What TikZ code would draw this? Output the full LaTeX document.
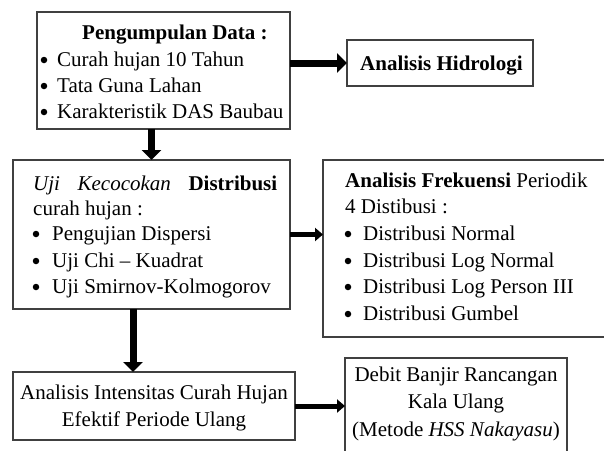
\documentclass[tikz,border=0pt]{standalone}
\usepackage{fontspec}
\setmainfont{Liberation Serif}
\usetikzlibrary{arrows.meta}
\begin{document}
\begin{tikzpicture}[x=1pt,y=-1pt,
  box/.style={draw=black!75, line width=1.3pt, inner sep=0pt, outer sep=0pt, anchor=north west},
  txt/.style={inner sep=0pt, anchor=base west, font=\fontsize{21}{25}\selectfont},
  ctxt/.style={inner sep=0pt, anchor=base, font=\fontsize{21}{25}\selectfont},
  bul/.style={circle, fill=black, inner sep=0pt, minimum size=6.5pt},
  bigarrow/.style={line width=7pt, -{Triangle[length=10pt,width=19pt]}},
  midarrow/.style={line width=5pt, -{Triangle[length=8pt,width=13pt]}}
]
\useasboundingbox (0,0) rectangle (604,450);
% boxes
\node[box, minimum width=253pt, minimum height=117pt] (b1) at (37,12) {};
\node[box, minimum width=186pt, minimum height=46pt] (hid) at (347,40) {};
\node[box, minimum width=277pt, minimum height=149pt] (b2) at (13,160) {};
\node[box, minimum width=290pt, minimum height=177pt] (b3) at (323,160) {};
\node[box, minimum width=282pt, minimum height=68pt] (b4) at (13,372) {};
\node[box, minimum width=222pt, minimum height=100pt] (b5) at (345,358) {};
% box 1 text
\node[txt] (t1) at (82,39) {\textbf{Pengumpulan Data :}};
\node[bul] (t1b1) at (44,60) {};
\node[txt] (t1l1) at (57,66) {Curah hujan 10 Tahun};
\node[bul] (t1b2) at (44,86) {};
\node[txt] (t1l2) at (57,92) {Tata Guna Lahan};
\node[bul] (t1b3) at (44,112) {};
\node[txt] (t1l3) at (57,118) {Karakteristik DAS Baubau};
% hidrologi
\node[txt] (th) at (360,70) {\textbf{Analisis Hidrologi}};
% box 2 text
\node[txt] (t2) at (33,190) {\makebox[244pt][s]{\textit{Uji}\hfill\textit{Kecocokan}\hfill\textbf{Distribusi}}};
\node[txt] (t2a) at (33,215) {curah hujan :};
\node[bul] (t2b1) at (36,234) {};
\node[txt] (t2l1) at (52,240) {Pengujian Dispersi};
\node[bul] (t2b2) at (36,261) {};
\node[txt] (t2l2) at (52,267) {Uji Chi -- Kuadrat};
\node[bul] (t2b3) at (36,287) {};
\node[txt] (t2l3) at (52,293) {Uji Smirnov-Kolmogorov};
% box 3 text
\node[txt] (t3) at (345,187) {\textbf{Analisis Frekuensi} Periodik};
\node[txt] (t3a) at (345,213) {4 Distibusi :};
\node[bul] (t3b1) at (348,234) {};
\node[txt] (t3l1) at (363,240) {Distribusi Normal};
\node[bul] (t3b2) at (348,261) {};
\node[txt] (t3l2) at (363,267) {Distribusi Log Normal};
\node[bul] (t3b3) at (348,287) {};
\node[txt] (t3l3) at (363,293) {Distribusi Log Person III};
\node[bul] (t3b4) at (348,314) {};
\node[txt] (t3l4) at (363,320) {Distribusi Gumbel};
% box 4 text
\node[ctxt] (t4a) at (154,399) {Analisis Intensitas Curah Hujan};
\node[ctxt] (t4b) at (154,426) {Efektif Periode Ulang};
% box 5 text
\node[ctxt] (t5a) at (456,381) {Debit Banjir Rancangan};
\node[ctxt] (t5b) at (456,408) {Kala Ulang};
\node[ctxt] (t5c) at (456,436) {(Metode \textit{HSS Nakayasu})};
% arrows
\draw[bigarrow] (b1.east |- hid.west) -- (hid.west);
\draw[bigarrow] (b1.south -| b2.north) -- (b2.north);
\draw[midarrow] (b2.east) -- (b2.east -| b3.west);
\coordinate (d) at ([xshift=-18.5pt]b2.south);
\draw[bigarrow] (d) -- (d |- b4.north);
\draw[midarrow] (b4.east) -- (b4.east -| b5.west);
\end{tikzpicture}
\end{document}
